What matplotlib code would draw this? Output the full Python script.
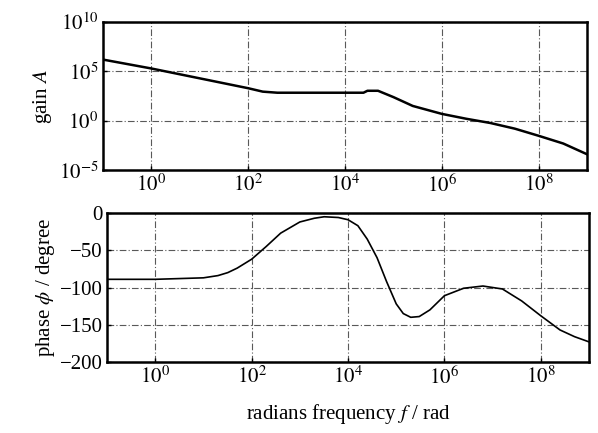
import matplotlib.pyplot as plt
import numpy as np

plt.rcParams['font.family'] = ['Liberation Serif', 'DejaVu Serif']
plt.rcParams['mathtext.fontset'] = 'stix'

# gain curve
gain_freq = [1e-1, 1e0, 1e1, 1e2, 2e2, 4e2, 2.4e4, 2.9e4, 4.8e4,
             1e5, 2.5e5, 1e6, 3.2e6, 1e7, 3.2e7, 1e8, 3.2e8, 1e9]
gain_val = [1.6e6, 2e5, 2e4, 2e3, 9e2, 7e2, 7e2, 1.1e3, 1.1e3,
            2.5e2, 3.2e1, 5e0, 1.6e0, 6e-1, 1.6e-1, 3e-2, 5e-3, 4e-4]

# phase curve
phase_freq = [1e-1, 1e0, 1e1, 2e1, 3.2e1, 5e1, 1e2, 2e2, 4e2, 1e3, 2e3,
              3.2e3, 6.3e3, 1e4, 1.6e4, 2.5e4, 4e4, 6.3e4, 1e5, 1.4e5,
              2e5, 3e5, 5e5, 1e6, 2.5e6, 6.3e6, 1.6e7, 4e7, 1e8, 2.5e8,
              5e8, 1e9]
phase_val = [-89, -89, -87, -84, -80, -74, -62, -45, -27, -12, -7,
             -5, -6, -9, -17, -35, -60, -92, -122, -135,
             -140, -139, -130, -111, -101, -98, -102, -118, -138, -157,
             -166, -173]

xticks = [1e0, 1e2, 1e4, 1e6, 1e8]
xticklabels = [r'$10^{0}$', r'$10^{2}$', r'$10^{4}$', r'$10^{6}$', r'$10^{8}$']
gain_ticks = [1e-5, 1e0, 1e5, 1e10]
gain_ticklabels = [r'$10^{-5}$', r'$10^{0}$', r'$10^{5}$', r'$10^{10}$']
phase_ticks = [0, -50, -100, -150, -200]

fig = plt.figure(figsize=(5.98, 4.33), dpi=100)
ax1 = fig.add_axes([0.172, 0.607, 0.81, 0.342])
ax2 = fig.add_axes([0.179, 0.164, 0.806, 0.344])

grid_kw = dict(color='0.35', linestyle=(0, (6, 2, 1, 2)), linewidth=0.8)

for ax in (ax1, ax2):
    ax.set_xscale('log')
    ax.set_xlim(1e-1, 1e9)
    ax.set_xticks(xticks)
    ax.set_xticklabels(xticklabels)
    ax.xaxis.set_minor_locator(plt.NullLocator())
    ax.grid(True, **grid_kw)
    for s in ax.spines.values():
        s.set_linewidth(1.8)
    ax.tick_params(direction='in', length=3, width=1, labelsize=15, pad=3)

ax1.plot(gain_freq, gain_val, color='black', linewidth=1.8)
ax1.set_yscale('log')
ax1.set_ylim(1e-5, 1e10)
ax1.set_yticks(gain_ticks)
ax1.set_yticklabels(gain_ticklabels)
ax1.yaxis.set_minor_locator(plt.NullLocator())
ax1.set_ylabel(r'gain $\mathit{A}$', fontsize=15, labelpad=4)

ax2.plot(phase_freq, phase_val, color='black', linewidth=1.2)
ax2.set_ylim(-200, 0)
ax2.set_yticks(phase_ticks)
ax2.set_yticklabels(['0', '\u221250', '\u2212100', '\u2212150', '\u2212200'])
ax2.set_ylabel(r'phase $\phi$ / degree', fontsize=15, labelpad=2)
ax2.set_xlabel(r'radians frequency $\mathit{f}$ / rad', fontsize=15, labelpad=10)

fig.savefig('out.png', dpi=100)
